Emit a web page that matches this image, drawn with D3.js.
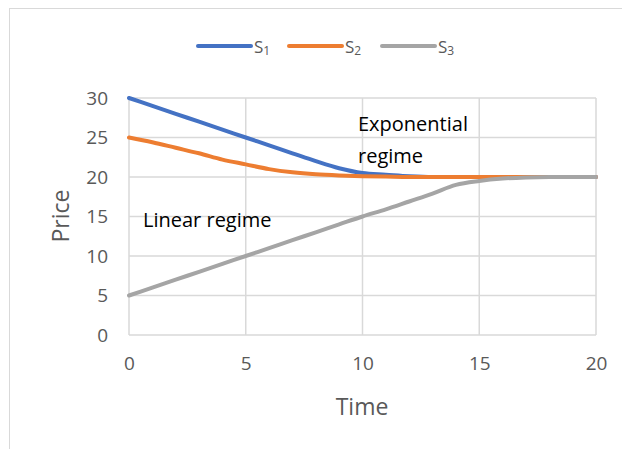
<!DOCTYPE html>
<html>
<head>
<meta charset="utf-8">
<script src="https://cdn.jsdelivr.net/npm/d3@7"></script>
<style>
  body { margin: 0; background: #fff; }
  text { font-family: "Open Sans", sans-serif; }
</style>
</head>
<body>
<svg id="chart" width="622" height="449"></svg>
<script>
// Chart data
const time = d3.range(0, 21);
const s1 = [30, 29, 28, 27, 26, 25, 24, 23, 22, 21.1, 20.5, 20.3, 20.1, 20, 20, 20, 20, 20, 20, 20, 20];
const s2 = [25, 24.4, 23.7, 23.0, 22.2, 21.6, 21.0, 20.6, 20.35, 20.2, 20.1, 20.05, 20, 20, 20, 20, 20, 20, 20, 20, 20];
const s3 = [5, 6, 7, 8, 9, 10, 11, 12, 13, 14, 15, 15.9, 16.9, 17.9, 19, 19.5, 19.8, 19.95, 20, 20, 20];
const seriesNames = ["S", "S", "S"];
const seriesSubs = ["1", "2", "3"];
const xTicks = [0, 5, 10, 15, 20];
const yTicks = [0, 5, 10, 15, 20, 25, 30];

const colors = ["#4472C4", "#ED7D31", "#A5A5A5"];

const svg = d3.select("#chart");

// outer chart frame
svg.append("rect")
    .attr("x", 9.5).attr("y", 8.5)
    .attr("width", 640).attr("height", 460)
    .attr("fill", "#fff")
    .attr("stroke", "#D9D9D9");

const x = d3.scaleLinear().domain([0, 20]).range([129, 596]);
const y = d3.scaleLinear().domain([0, 30]).range([335, 98]);

// gridlines
svg.append("g").selectAll("line.h")
    .data(yTicks).enter().append("line")
    .attr("x1", x(0)).attr("x2", x(20))
    .attr("y1", d => y(d)).attr("y2", d => y(d))
    .attr("stroke", "#D9D9D9").attr("stroke-width", 1.5);

svg.append("g").selectAll("line.v")
    .data(xTicks).enter().append("line")
    .attr("x1", d => x(d)).attr("x2", d => x(d))
    .attr("y1", y(0)).attr("y2", y(30))
    .attr("stroke", "#D9D9D9").attr("stroke-width", 1.5);

// axes (labels only)
let yAxis = svg.append("g")
    .attr("transform", `translate(${x(0)},0)`)
    .call(d3.axisLeft(y).tickValues(yTicks).tickSize(0).tickPadding(21));
yAxis.select(".domain").remove();
yAxis.selectAll("text").attr("font-size", 19).attr("fill", "#595959")
    .style("font-family", "'Open Sans', sans-serif");

let xAxis = svg.append("g")
    .attr("transform", `translate(0,${y(0)})`)
    .call(d3.axisBottom(x).tickValues(xTicks).tickSize(0).tickPadding(22));
xAxis.select(".domain").remove();
xAxis.selectAll("text").attr("font-size", 19).attr("fill", "#595959")
    .style("font-family", "'Open Sans', sans-serif");

// axis titles
svg.append("text")
    .attr("x", 362).attr("y", 415)
    .attr("text-anchor", "middle")
    .attr("font-size", 23).attr("fill", "#595959")
    .text("Time");

svg.append("text")
    .attr("transform", "translate(69,216) rotate(-90)")
    .attr("text-anchor", "middle")
    .attr("font-size", 23).attr("fill", "#595959")
    .text("Price");

// lines
const allSeries = [s1, s2, s3];
const line = d3.line()
    .x((d, i) => x(time[i]))
    .y(d => y(d))
    .curve(d3.curveMonotoneX);

allSeries.forEach((s, k) => {
    svg.append("path")
        .datum(s)
        .attr("d", line)
        .attr("fill", "none")
        .attr("stroke", colors[k])
        .attr("stroke-width", 4)
        .attr("stroke-linecap", "round")
        .attr("stroke-linejoin", "round");
});

// annotations
svg.append("text").attr("x", 358).attr("y", 131)
    .attr("font-size", 20).attr("fill", "#000").text("Exponential");
svg.append("text").attr("x", 358).attr("y", 163)
    .attr("font-size", 20).attr("fill", "#000").text("regime");
svg.append("text").attr("x", 143).attr("y", 227)
    .attr("font-size", 20).attr("fill", "#000").text("Linear regime");

// legend
const legendX = [198, 289, 382];
const legend = svg.append("g");
seriesNames.forEach((n, k) => {
    legend.append("line")
        .attr("x1", legendX[k]).attr("x2", legendX[k] + 53)
        .attr("y1", 46).attr("y2", 46)
        .attr("stroke", colors[k]).attr("stroke-width", 4)
        .attr("stroke-linecap", "round");
    let t = legend.append("text")
        .attr("x", legendX[k] + 56).attr("y", 53)
        .attr("font-size", 17).attr("fill", "#595959");
    t.append("tspan").text(n);
    t.append("tspan").attr("font-size", 12).attr("dy", 2).text(seriesSubs[k]);
});
</script>
</body>
</html>
